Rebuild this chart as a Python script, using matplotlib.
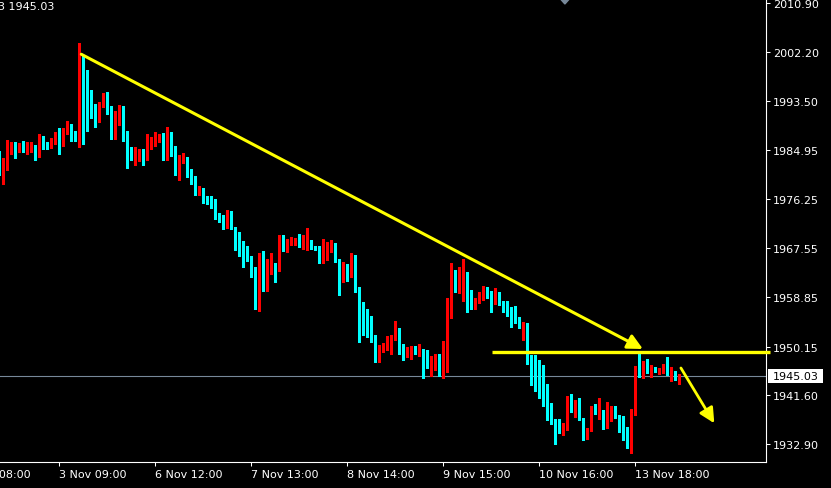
import numpy as np
import matplotlib
matplotlib.use("Agg")
import matplotlib.pyplot as plt
import matplotlib.transforms as mtransforms
from matplotlib.patches import Rectangle

# H1 bars, index -1 is the half-cut bar at the left edge
bars = np.arange(-1, 170)

opens = [
    1984.22, 1981.09, 1981.69, 1984.98, 1985.98, 1985.22, 1986.16, 1984.87, 1984.98, 1985.63,
    1983.74, 1987.22, 1985.68, 1985.51, 1986.69, 1987.22, 1985.81, 1987.93, 1988.81, 1987.93,
    1987.27, 1999.83, 1995.23, 1994.29, 1991.64, 1990.10, 1992.88, 1994.82, 1992.23, 1988.34,
    1990.99, 1991.87, 1987.04, 1985.15, 1983.81, 1983.92, 1984.39, 1983.46, 1985.63, 1986.57,
    1986.87, 1987.58, 1984.22, 1986.21, 1984.57, 1980.91, 1983.03, 1983.51, 1981.21, 1980.15,
    1977.14, 1977.85, 1976.73, 1975.91, 1975.91, 1973.08, 1972.72, 1971.31, 1973.78, 1971.13,
    1969.54, 1966.71, 1966.41, 1966.06, 1963.88, 1958.46, 1966.36, 1960.22, 1963.18, 1964.77,
    1963.88, 1969.54, 1967.24, 1968.83, 1968.89, 1969.01, 1967.95, 1968.54, 1968.66, 1967.77,
    1967.60, 1965.47, 1967.07, 1967.42, 1968.30, 1965.47, 1961.94, 1964.59, 1962.65, 1964.95,
    1960.35, 1955.52, 1955.04, 1953.86, 1952.22, 1948.20, 1949.74, 1950.22, 1950.62, 1951.92,
    1953.45, 1950.15, 1949.26, 1949.44, 1950.15, 1949.26, 1949.44, 1948.38, 1946.61, 1946.79,
    1948.68, 1945.73, 1950.09, 1958.05, 1962.95, 1960.47, 1961.82, 1963.18, 1958.40, 1957.11,
    1958.76, 1958.81, 1960.52, 1959.16, 1958.05, 1959.64, 1957.87, 1957.40, 1956.99, 1955.40,
    1954.87, 1953.86, 1954.16, 1948.33, 1947.44, 1946.20, 1942.14, 1942.14, 1939.49, 1936.83,
    1936.13, 1935.42, 1938.60, 1940.19, 1939.13, 1940.19, 1937.36, 1935.07, 1935.42, 1939.13,
    1938.42, 1938.78, 1936.30, 1938.07, 1939.49, 1937.89, 1936.13, 1935.77, 1932.41, 1938.42,
    1945.85, 1945.50, 1947.62, 1945.85, 1946.56, 1946.03, 1946.38, 1946.73, 1945.32, 1945.50,
    1944.44,
]
highs = [
    1984.75, 1983.51, 1986.69, 1986.39, 1986.34, 1986.16, 1986.51, 1986.39, 1986.34, 1985.81,
    1987.75, 1987.40, 1986.28, 1987.10, 1988.05, 1988.81, 1988.76, 1990.00, 1989.52, 1988.28,
    2003.84, 2001.49, 1999.12, 1995.53, 1993.06, 1993.41, 1995.00, 1995.12, 1992.76, 1991.87,
    1992.88, 1992.76, 1988.28, 1985.45, 1985.40, 1985.10, 1985.10, 1987.70, 1987.17, 1988.05,
    1987.75, 1987.93, 1988.94, 1988.10, 1985.63, 1984.04, 1984.39, 1983.60, 1981.51, 1980.30,
    1978.56, 1978.20, 1976.80, 1976.73, 1976.26, 1973.78, 1973.43, 1974.32, 1974.14, 1971.30,
    1970.43, 1968.83, 1967.95, 1966.20, 1964.24, 1966.71, 1967.07, 1965.65, 1966.71, 1964.95,
    1969.90, 1969.90, 1969.19, 1969.60, 1969.42, 1970.07, 1969.90, 1971.13, 1969.01, 1967.95,
    1967.95, 1969.19, 1968.66, 1969.01, 1968.40, 1965.60, 1965.12, 1964.70, 1966.71, 1966.36,
    1960.70, 1958.10, 1956.81, 1955.52, 1952.30, 1950.45, 1950.80, 1951.99, 1952.22, 1954.69,
    1953.50, 1950.57, 1950.04, 1950.33, 1950.33, 1950.62, 1949.74, 1949.56, 1948.56, 1948.86,
    1948.86, 1951.15, 1958.76, 1964.95, 1963.65, 1964.24, 1965.65, 1963.30, 1960.17, 1958.76,
    1959.76, 1960.93, 1960.70, 1959.99, 1960.52, 1959.80, 1958.23, 1958.23, 1957.10, 1957.34,
    1955.40, 1954.51, 1954.30, 1948.68, 1948.68, 1947.79, 1946.91, 1943.55, 1940.19, 1937.36,
    1937.36, 1936.66, 1941.43, 1941.78, 1940.72, 1941.08, 1937.54, 1935.77, 1939.66, 1940.02,
    1941.08, 1938.96, 1940.37, 1939.66, 1939.66, 1938.07, 1937.89, 1935.95, 1939.13, 1946.73,
    1949.03, 1947.70, 1947.97, 1946.91, 1946.60, 1946.45, 1947.09, 1948.33, 1946.56, 1945.85,
    1945.32,
]
lows = [
    1980.50, 1978.91, 1981.44, 1984.22, 1983.56, 1984.57, 1984.57, 1984.22, 1984.57, 1983.21,
    1983.60, 1985.15, 1985.10, 1985.33, 1986.04, 1984.22, 1985.68, 1987.75, 1986.57, 1986.57,
    1985.51, 1985.98, 1988.28, 1990.58, 1989.04, 1989.82, 1992.47, 1991.29, 1986.87, 1986.87,
    1989.34, 1986.57, 1981.79, 1983.21, 1982.27, 1983.03, 1982.32, 1983.21, 1985.10, 1985.68,
    1986.28, 1983.21, 1983.21, 1983.81, 1980.50, 1979.67, 1982.62, 1980.20, 1978.91, 1977.00,
    1977.00, 1975.55, 1975.32, 1974.67, 1972.80, 1972.19, 1970.96, 1971.13, 1970.96, 1967.24,
    1966.18, 1964.24, 1965.30, 1962.52, 1956.81, 1956.51, 1960.05, 1960.05, 1963.00, 1961.64,
    1963.53, 1967.07, 1966.89, 1968.13, 1968.13, 1967.77, 1967.47, 1967.24, 1967.42, 1967.30,
    1964.95, 1964.95, 1965.47, 1966.89, 1965.20, 1959.29, 1961.59, 1961.76, 1962.50, 1959.82,
    1950.98, 1952.22, 1951.92, 1951.03, 1947.50, 1947.50, 1949.26, 1949.62, 1948.86, 1951.33,
    1948.86, 1947.85, 1948.27, 1947.97, 1948.86, 1948.45, 1944.61, 1946.33, 1945.02, 1946.08,
    1945.02, 1944.67, 1945.73, 1955.27, 1959.76, 1959.64, 1958.28, 1956.23, 1956.81, 1956.81,
    1957.87, 1958.40, 1958.70, 1956.33, 1957.70, 1957.52, 1956.33, 1955.63, 1953.63, 1954.34,
    1953.45, 1951.38, 1947.14, 1943.38, 1942.31, 1941.08, 1939.66, 1937.19, 1936.48, 1932.94,
    1934.89, 1934.54, 1935.42, 1938.60, 1937.72, 1937.10, 1933.65, 1933.83, 1935.30, 1938.25,
    1937.36, 1935.60, 1935.77, 1937.01, 1937.54, 1935.07, 1933.65, 1932.24, 1931.35, 1938.07,
    1944.79, 1944.61, 1945.50, 1944.79, 1945.67, 1945.32, 1945.50, 1945.15, 1944.08, 1944.30,
    1943.55,
]
closes = [
    1981.03, 1981.97, 1985.10, 1985.98, 1985.28, 1985.81, 1984.80, 1985.05, 1985.63, 1983.74,
    1987.27, 1985.45, 1985.33, 1986.87, 1987.40, 1985.98, 1988.28, 1988.81, 1987.80, 1987.04,
    1999.95, 1994.82, 1994.12, 1991.29, 1990.10, 1992.88, 1994.82, 1992.35, 1988.34, 1991.11,
    1991.87, 1986.87, 1985.10, 1983.69, 1984.22, 1984.45, 1983.46, 1985.81, 1986.69, 1987.10,
    1987.58, 1984.09, 1986.16, 1984.45, 1980.68, 1983.33, 1983.51, 1981.03, 1979.97, 1977.14,
    1977.67, 1976.61, 1975.73, 1975.73, 1972.90, 1972.55, 1971.31, 1973.78, 1971.13, 1969.36,
    1966.71, 1966.18, 1965.83, 1963.76, 1958.46, 1966.36, 1960.22, 1963.35, 1964.77, 1963.88,
    1969.36, 1967.24, 1969.06, 1969.19, 1969.06, 1967.95, 1968.66, 1968.66, 1967.60, 1967.42,
    1965.47, 1967.42, 1967.77, 1968.30, 1965.30, 1961.94, 1964.59, 1962.65, 1964.95, 1960.17,
    1955.40, 1954.92, 1953.86, 1951.92, 1948.20, 1949.92, 1950.45, 1950.92, 1952.09, 1953.45,
    1950.15, 1949.26, 1949.62, 1950.15, 1949.26, 1949.51, 1948.27, 1946.61, 1946.97, 1948.68,
    1945.73, 1950.09, 1958.23, 1962.95, 1960.47, 1961.94, 1963.18, 1958.28, 1957.11, 1958.58,
    1959.16, 1960.52, 1958.93, 1958.23, 1959.46, 1957.70, 1957.17, 1956.81, 1955.22, 1954.87,
    1953.86, 1954.21, 1948.15, 1947.27, 1946.03, 1942.49, 1941.96, 1939.49, 1936.66, 1935.77,
    1935.42, 1936.13, 1940.37, 1939.13, 1940.19, 1937.19, 1935.07, 1935.60, 1938.96, 1938.42,
    1938.60, 1936.30, 1938.07, 1939.31, 1937.72, 1935.95, 1935.60, 1932.41, 1938.60, 1945.85,
    1945.50, 1947.62, 1945.85, 1946.56, 1945.85, 1946.38, 1946.73, 1945.32, 1945.67, 1944.44,
    1945.03,
]

price_ticks = [2010.90, 2002.20, 1993.50, 1984.95, 1976.25, 1967.55, 1958.85, 1950.15, 1941.60, 1932.90]
time_tick_bars = [14, 38, 62, 86, 110, 134, 158]
time_tick_labels = ['3 Nov 09:00', '6 Nov 12:00', '7 Nov 13:00', '8 Nov 14:00',
                    '9 Nov 15:00', '10 Nov 16:00', '13 Nov 18:00']
cut_time_bar = -10
cut_time_label = '2 Nov 08:00'
last_price = 1945.03
header_text = '3 1945.03'

# hand drawn objects (bar index, price)
trend_start = (19.5, 2001.85)
trend_end = (159.9, 1949.74)
level_price = 1949.27
level_from_bar = 122.2
level_to_bar = 191.7
small_arrow_start = (169.4, 1946.38)
small_arrow_end = (177.75, 1936.61)
marker_bar = 140.4

BULL = '#ff0000'
BEAR = '#00ffff'
YELLOW = '#ffff00'
GRID_GRAY = '#778899'

# chart scale: 4 px per bar, ~0.1768 price per px
PX_PRICE = 0.1768

fig = plt.figure(figsize=(8.31, 4.89), dpi=100, facecolor='black')
ax = fig.add_axes([0, 26 / 489, 766 / 831, 463 / 489])
ax.set_facecolor('black')
ax.set_xlim(-0.825, 190.675)
ax.set_ylim(1929.76, 2011.62)

o = np.array(opens)
h = np.array(highs)
l = np.array(lows)
c = np.array(closes)
up = c > o
colors = np.where(up, BULL, BEAR)

ax.vlines(bars, l, h, colors=colors, linewidth=0.75, antialiased=False, zorder=3)
body_bottom = np.minimum(o, c)
body_height = np.maximum(np.abs(c - o), PX_PRICE)
ax.bar(bars, body_height, bottom=body_bottom, width=0.6, color=colors,
       linewidth=0, antialiased=False, zorder=4)

# last price line
ax.axhline(last_price, color=GRID_GRAY, lw=0.8, zorder=2)

# yellow drawings
ax.annotate('', xy=trend_end, xytext=trend_start,
            arrowprops=dict(arrowstyle='-|>,head_length=0.9,head_width=0.45',
                            color=YELLOW, lw=2.2, shrinkA=0, shrinkB=0, mutation_scale=10),
            zorder=6)
ax.plot([level_from_bar, level_to_bar], [level_price, level_price], color=YELLOW,
        lw=2.4, clip_on=False, solid_capstyle='butt', zorder=6)
ax.annotate('', xy=small_arrow_end, xytext=small_arrow_start,
            arrowprops=dict(arrowstyle='-|>,head_length=0.9,head_width=0.45',
                            color=YELLOW, lw=2.0, shrinkA=0, shrinkB=0, mutation_scale=10),
            zorder=6)

# small gray marker at the top
top = ax.get_ylim()[1]
ax.fill([marker_bar - 1.1, marker_bar + 1.1, marker_bar],
        [top, top, top - 5 * PX_PRICE], color=GRID_GRAY, clip_on=False, zorder=7)

# axes styling
for side in ['left', 'top']:
    ax.spines[side].set_visible(False)
for side in ['right', 'bottom']:
    ax.spines[side].set_color('white')
    ax.spines[side].set_linewidth(0.8)

ax.yaxis.tick_right()
ax.set_yticks(price_ticks, [f'{p:.2f}' for p in price_ticks])
ax.set_xticks(time_tick_bars, time_tick_labels)
for lab in ax.get_xticklabels():
    lab.set_horizontalalignment('left')
ax.tick_params(colors='white', labelsize=8, length=3, width=0.75, direction='out', pad=2)

ax.annotate(cut_time_label, xy=(cut_time_bar, 0), xycoords=('data', 'axes fraction'),
            xytext=(0, -5), textcoords='offset points', ha='left', va='top',
            color='white', fontsize=8, annotation_clip=False)

# last price box on the price scale
trans = mtransforms.blended_transform_factory(ax.transAxes, ax.transData)
ax.add_patch(Rectangle((768 / 766, last_price - 7 * PX_PRICE), 55 / 766, 14 * PX_PRICE,
                       transform=trans, facecolor='white', edgecolor='none',
                       clip_on=False, zorder=8))
ax.text(773 / 766, last_price, f'{last_price:.2f}', transform=trans, ha='left',
        va='center', color='black', fontsize=8, clip_on=False, zorder=9)

fig.text(-2 / 831, 1 - 2 / 489, header_text, ha='left', va='top', color='white', fontsize=8)

fig.savefig('out.png', dpi=100, facecolor='black')
